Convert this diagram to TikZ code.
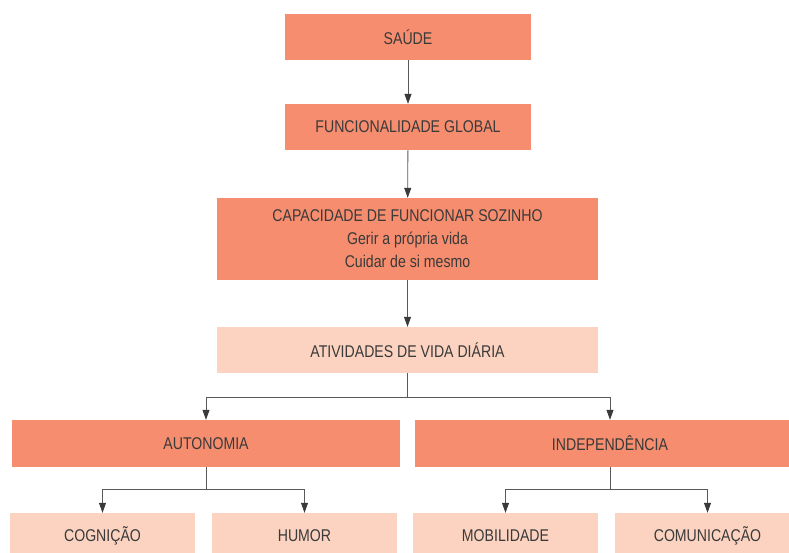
\documentclass[tikz,border=0pt]{standalone}
\usepackage{fontspec}
\setmainfont{Liberation Sans}[FakeStretch=0.83]
\usepackage{xcolor}
\usepackage{tikz}
\usetikzlibrary{arrows.meta}

\definecolor{salmon}{HTML}{F58D6E}
\definecolor{peach}{HTML}{FBD3C0}
\definecolor{ink}{HTML}{3A3A3A}

\begin{document}
\begin{tikzpicture}[x=1pt,y=1pt,yscale=-1,xscale=1,
  box/.style={fill=salmon, text=ink, inner sep=0pt, minimum height=46pt, align=center, font=\fontsize{17}{23}\selectfont},
  lbox/.style={box, fill=peach},
  arr/.style={draw=black!65, line width=0.8pt, -{Triangle[length=10pt,width=7pt,color=ink]}},
  seg/.style={draw=black!65, line width=0.8pt}]

\useasboundingbox (0,0) rectangle (789,552);

% main chain
\node [box, minimum width=246pt] (saude) at (408,37) {SAÚDE};
\node [box, minimum width=246pt] (global) at (408,127) {FUNCIONALIDADE GLOBAL};
\node [box, minimum width=381pt, minimum height=82pt] (sozinho) at (407.5,239) {CAPACIDADE DE FUNCIONAR SOZINHO\\Gerir a própria vida\\Cuidar de si mesmo};
\node [lbox, minimum width=381pt] (avd) at (407.5,350) {ATIVIDADES DE VIDA DIÁRIA};

% second level
\node [box, minimum width=388pt, minimum height=47pt] (autonomia) at (206,443.5) {AUTONOMIA};
\node [box, minimum width=390pt, minimum height=47pt] (independencia) at (610,443.5) {INDEPENDÊNCIA};

% third level
\node [lbox, minimum width=185pt] (cognicao) at (102.5,536) {COGNIÇÃO};
\node [lbox, minimum width=185pt] (humor) at (304.5,536) {HUMOR};
\node [lbox, minimum width=185pt] (mobilidade) at (505.5,536) {MOBILIDADE};
\node [lbox, minimum width=185pt] (comunicacao) at (707.5,536) {COMUNICAÇÃO};

\coordinate (split1) at (407.5,397);
\coordinate (split2) at (206,489);
\coordinate (split3) at (610,489);

\draw [arr] (saude) -- (global);
\draw [arr] (global) -- (sozinho);
\draw [arr] (sozinho) -- (avd);

\draw [seg] (avd) -- (split1);
\draw [arr] (split1) -| (autonomia);
\draw [arr] (split1) -| (independencia);

\draw [seg] (autonomia) -- (split2);
\draw [arr] (split2) -| (cognicao);
\draw [arr] (split2) -| (humor);

\draw [seg] (independencia) -- (split3);
\draw [arr] (split3) -| (mobilidade);
\draw [arr] (split3) -| (comunicacao);

\end{tikzpicture}
\end{document}
